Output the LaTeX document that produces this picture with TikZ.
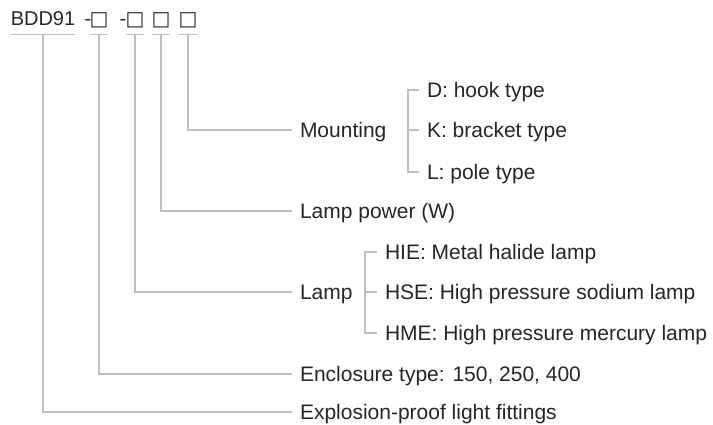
\documentclass[tikz,border=0pt]{standalone}
\usepackage{fontspec}
\setmainfont{Liberation Sans}
\newfontfamily\boxfont{DejaVu Sans}
\usetikzlibrary{positioning}
\definecolor{txtgray}{HTML}{262626}
\definecolor{linegray}{HTML}{BEBEBE}
\tikzset{
every node/.style={inner sep=0pt,outer sep=0pt,text=txtgray},
head/.style={anchor=base,text depth=9pt,font=\fontsize{20}{24}\selectfont},
item/.style={anchor=west,inner xsep=8pt,text height=15pt,text depth=0pt,font=\fontsize{21}{25}\selectfont},
leg/.style={draw=linegray,line width=1.6pt}
}

\begin{document}
\begin{tikzpicture}[x=1pt,y=-1pt]
\useasboundingbox (0,0) rectangle (713,425);

% the type code on top
\node[head,minimum width=63pt] (c0) at (43,26) {BDD91};
\node[head] (d1) at (88,26) {-};
\node[head] (d2) at (123,26) {-};
\foreach \n/\x in {1/99,2/135,3/161,4/188}
  \node[head,minimum width=15pt,font=\boxfont\fontsize{20}{24}\selectfont] (c\n) at (\x,26) {□};

% underlines below each part of the code
\foreach \n in {0,...,4}
  \draw[leg,line width=1pt] (c\n.south west) -- (c\n.south east);

% the items
\node[item] (e1) at (292,130) {Mounting};
\node[item] (e2) at (292,211) {Lamp power (W)};
\node[item] (e3) at (292,292) {Lamp};
\node[item] (e4) at (292,374) {Enclosure type: 150, 250, 400};
\node[item] (e5) at (292,412) {Explosion-proof light fittings};

% the choices next to "Mounting" and "Lamp"
\node[item] (m1) at (419,90) {D: hook type};
\node[item] (m2) at (419,130) {K: bracket type};
\node[item] (m3) at (419,172) {L: pole type};

\node[item] (h1) at (377,252) {HIE: Metal halide lamp};
\node[item] (h2) at (377,292) {HSE: High pressure sodium lamp};
\node[item] (h3) at (377,333) {HME: High pressure mercury lamp};

% lines from each part of the code to its item
\foreach \n/\m in {4/1,3/2,2/3,1/4,0/5}
  \draw[leg] (c\n.south) |- (e\m.west);

% brackets
\draw[leg] (m1.west) -- ++(-11,0) |- (m3.west);
\draw[leg] (m2.west) -- ++(-11,0);
\draw[leg] (h1.west) -- ++(-12,0) |- (h3.west);
\draw[leg] (h2.west) -- ++(-12,0);

\end{tikzpicture}
\end{document}
